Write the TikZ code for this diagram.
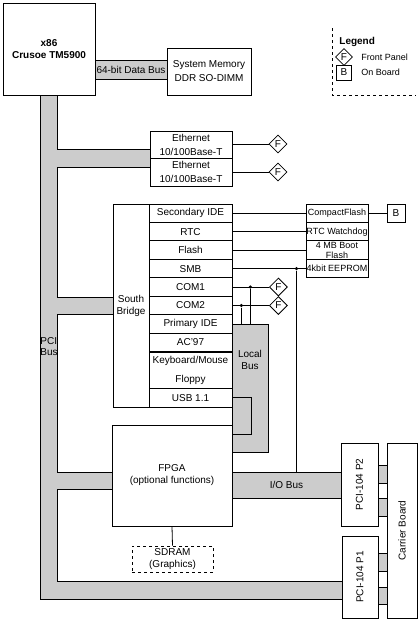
\documentclass[tikz,border=0pt]{standalone}
\usepackage{fontspec}
\setmainfont{Liberation Sans}
\usepackage{xcolor}
\definecolor{busgray}{RGB}{204,204,204}
\usepackage{tikz}
\usetikzlibrary{shapes.geometric}
\usetikzlibrary{positioning}

\tikzset{
unit/.style={draw,fill=white,inner sep=0pt,align=center},
sbrow/.style={unit,minimum width=83pt,minimum height=18.45pt},
devrow/.style={unit,minimum width=62pt,minimum height=18.45pt,font=\fontsize{9}{10}\selectfont},
bus/.style={draw,fill=busgray},
frontpanel/.style={draw,fill=white,shape=diamond,minimum width=18pt,minimum height=18pt,inner sep=0pt},
onboard/.style={draw,fill=white,minimum width=18pt,minimum height=18pt,inner sep=0pt},
tap/.style={shape=circle,fill,inner sep=0pt,minimum size=3.5pt}
}

\begin{document}
\begin{tikzpicture}[x=1pt,y=-1pt,line width=0.8pt,font=\fontsize{10}{12}\selectfont]
\useasboundingbox (0,0) rectangle (418,621);
\draw[bus] (40,95) -- (40,599) -- (342,599) -- (342,581) -- (57,581) -- (57,489) -- (112,489) -- (112,472) -- (57,472) -- (57,314) -- (113,314) -- (113,297) -- (57,297) -- (57,167) -- (150,167) -- (150,149) -- (57,149) -- (57,95) -- cycle;
\node at (40,347) [anchor=west,align=left,inner sep=0pt,font=\fontsize{10}{11}\selectfont]{PCI\\Bus};

\node (cpu) at (49,49) [unit,minimum width=92pt,minimum height=92pt,font=\bfseries\fontsize{10}{12}\selectfont]{x86\\Crusoe TM5900};
\node (databus) at (131,69.5) [bus,minimum width=72pt,minimum height=19pt,inner sep=0pt]{64-bit Data Bus};
\node (sysmem) at (209,71.5) [unit,minimum width=84pt,minimum height=47pt,font=\fontsize{10}{14}\selectfont]{System Memory\\DDR SO-DIMM};

\node (eth1) at (191,144.75) [unit,minimum width=82pt,minimum height=27.5pt,font=\fontsize{10}{14}\selectfont]{Ethernet\\10/100Base-T};
\node (eth2) at (191,172.25) [unit,minimum width=82pt,minimum height=27.5pt,font=\fontsize{10}{14}\selectfont]{Ethernet\\10/100Base-T};
\node (fpeth1) at (278,144) [frontpanel]{F};
\node (fpeth2) at (278,172) [frontpanel]{F};
\draw (eth1.east |- fpeth1) -- (fpeth1.west);
\draw (eth2.east |- fpeth2) -- (fpeth2.west);

\node (localbus) at (250,388) [bus,minimum width=36pt,minimum height=128pt,inner sep=0pt]{};
\node at (250,360) [align=center]{Local\\Bus};
\node (iobus) at (286.5,485) [bus,minimum width=109pt,minimum height=26pt,inner sep=0pt]{I/O Bus};

\node (southbridge) at (131,305.5) [unit,minimum width=36pt,minimum height=203pt]{South\\Bridge};
\node (secide) at (190.5,213.2) [sbrow]{Secondary IDE};
\node (rtc) at (190.5,231.7) [sbrow]{RTC};
\node (flash) at (190.5,250.1) [sbrow]{Flash};
\node (smb) at (190.5,268.6) [sbrow]{SMB};
\node (com1) at (190.5,287.0) [sbrow]{COM1};
\node (com2) at (190.5,305.5) [sbrow]{COM2};
\node (primide) at (190.5,324.0) [sbrow]{Primary IDE};
\node (ac97) at (190.5,342.4) [sbrow]{AC'97};
\node (kbd) at (190.5,370.4) [sbrow,minimum height=36.9pt,font=\fontsize{10}{18.5}\selectfont]{Keyboard/Mouse\\Floppy};
\node (usb) at (190.5,397.7) [sbrow]{USB 1.1};

\node (compactflash) at (337,213.2) [devrow]{CompactFlash};
\node (rtcwd) at (337,231.7) [devrow]{RTC Watchdog};
\node (bootflash) at (337,250.1) [devrow]{4 MB Boot\\Flash};
\node (eeprom) at (337,268.6) [devrow]{4kbit EEPROM};
\node (obcf) at (396,213.2) [onboard]{B};
\draw (secide.east) -- (compactflash.west);
\draw (rtc.east) -- (rtcwd.west);
\draw (flash.east) -- (bootflash.west);
\draw (smb.east) -- (eeprom.west);
\draw (compactflash.east) -- (obcf.west);

\node (smbtap) at ([xshift=64pt]smb.east) [tap]{};
\node (com1tap) at ([xshift=18pt]com1.east) [tap]{};
\node (com2tap) at ([xshift=9pt]com2.east) [tap]{};
\node (fpcom1) at ([xshift=46pt]com1.east) [frontpanel]{F};
\node (fpcom2) at ([xshift=46pt]com2.east) [frontpanel]{F};
\draw (com1.east) -- (fpcom1.west);
\draw (com2.east) -- (fpcom2.west);
\draw (com1tap) -- (com1tap |- localbus.north);
\draw (com2tap) -- (com2tap |- localbus.north);
\draw (smbtap) -- (smbtap |- iobus.north);

\node (fpga) at (172,475.5) [unit,minimum width=120pt,minimum height=101pt]{FPGA\\(optional functions)};
\node (sdram) at (172.5,559) [unit,dashed,line width=0.6pt,minimum width=81pt,minimum height=26pt]{SDRAM\\(Graphics)};
\draw (fpga.south) -- (sdram.north);
\coordinate (usbturn) at (251,434);
\draw (usb.east) -| (usbturn) -- (usbturn -| fpga.east);

\node (pcip2) at (359.5,484.5) [unit,rotate=90,minimum width=83pt,minimum height=37pt]{PCI-104 P2};
\node (pcip1) at (360,577) [unit,rotate=90,minimum width=82pt,minimum height=36pt]{PCI-104 P1};
\node (carrier) at (402,530.5) [unit,rotate=90,minimum width=175pt,minimum height=30pt]{Carrier Board};
\draw[bus] (378,465) rectangle (387,483);
\draw[bus] (378,498) rectangle (387,516);
\draw[bus] (378,553) rectangle (387,571);
\draw[bus] (378,587) rectangle (387,604);

\draw[dashed,line width=0.6pt] (332,28) -- (332,95) -- (416,95);
\node at (339,42) [anchor=west,inner sep=0pt,font=\bfseries\fontsize{10}{12}\selectfont]{Legend};
\node (legfp) at (344,57) [frontpanel,minimum width=17pt,minimum height=17pt]{F};
\node (legob) at (344,72.5) [onboard,minimum width=15pt,minimum height=15pt]{B};
\node at (361,57) [anchor=west,inner sep=0pt,font=\fontsize{9}{11}\selectfont]{Front Panel};
\node at (361,72.5) [anchor=west,inner sep=0pt,font=\fontsize{9}{11}\selectfont]{On Board};
\end{tikzpicture}
\end{document}
